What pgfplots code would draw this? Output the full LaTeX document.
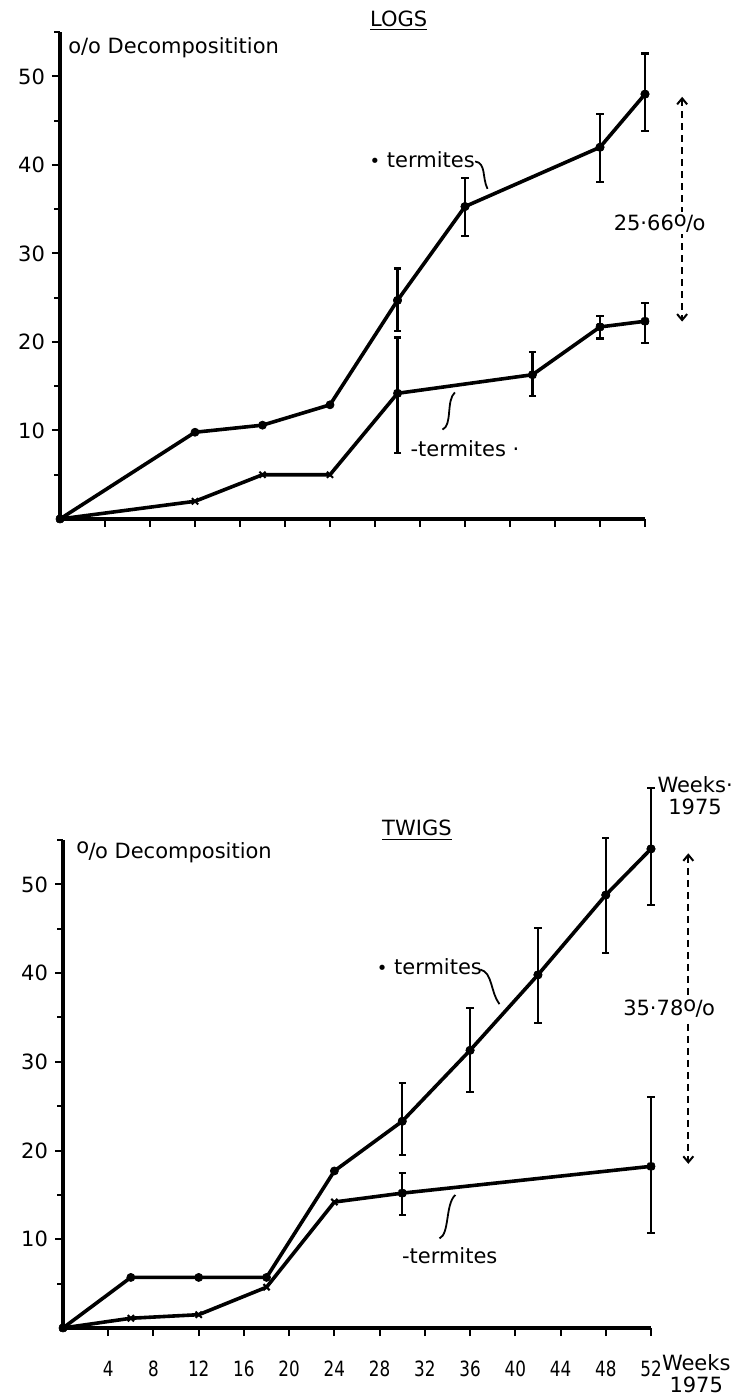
\documentclass[border=0pt]{standalone}
\usepackage{fontspec}
\setmainfont{DejaVu Sans}
\usepackage{graphicx}
\usepackage{pgfplots}
\pgfplotsset{compat=1.18}
\usepackage{pgfplotstable}
\usetikzlibrary{arrows.meta}

% ---- LOGS: % decomposition against weeks (1975) ----
\pgfplotstableread{
w y
0 0
12 9.8
18 10.6
24 12.9
30 24.7
36 35.3
48 42.0
52 48.0
}\logsplus
\pgfplotstableread{
w y ep em
30 24.7 3.6 3.5
36 35.3 3.2 3.3
48 42.0 3.8 3.9
52 48.0 4.6 4.2
}\logspluserr
\pgfplotstableread{
w y
0 0
12 2.0
18 5.0
24 5.0
30 14.2
42 16.3
48 21.7
52 22.34
}\logsminus
\pgfplotstableread{
w y ep em
30 14.2 6.3 6.7
42 16.3 2.6 2.4
48 21.7 1.2 1.3
52 22.34 2.1 2.5
}\logsminuserr

% ---- TWIGS ----
\pgfplotstableread{
w y
0 0
6 5.7
12 5.7
18 5.7
24 17.7
30 23.3
36 31.3
42 39.8
48 48.8
52 54.0
}\twigsplus
\pgfplotstableread{
w y ep em
30 23.3 4.3 3.8
36 31.3 4.8 4.7
42 39.8 5.3 5.4
48 48.8 6.4 6.5
52 54.0 6.9 6.3
}\twigspluserr
\pgfplotstableread{
w y
0 0
6 1.1
12 1.5
18 4.6
24 14.2
30 15.2
52 18.22
}\twigsminus
\pgfplotstableread{
w y ep em
30 15.2 2.3 2.5
52 18.22 7.8 7.5
}\twigsminuserr

\pgfplotsset{
  decay/.style={
    scale only axis, anchor=south west,
    xmin=0, xmax=52, ymin=0, ymax=55,
    axis lines=left,
    axis line style={-, line width=2pt},
    clip=false,
    xtick={4,8,...,52}, ytick={10,20,...,50}, minor ytick={5,15,...,55},
    tick align=outside,
    major tick length=4pt, minor tick length=2.8pt,
    tick style={black, line width=1pt},
    yticklabel style={font=\fontsize{10.5}{12}\selectfont},
    /pgf/number format/assume math mode=true,
  },
  withtermites/.style={black, line width=1.8pt, mark=*, mark size=2pt,
    mark options={solid, line width=0.4pt}},
  notermites/.style={black, line width=1.8pt, mark=x, mark size=2.2pt,
    mark options={line width=1pt}},
  bars/.style={black, only marks, mark=none, forget plot,
    error bars/y dir=both, error bars/y explicit,
    error bars/error bar style={line width=1.1pt},
    error bars/error mark options={rotate=90, line width=1.1pt, mark size=1.8pt}},
}

\newcommand{\pc}{\raisebox{2.2pt}{o}\kern-0.3pt/\kern-0.3pt o}

\begin{document}
\begin{tikzpicture}
\useasboundingbox (0pt,0pt) rectangle (367.5pt,698.5pt);

% ---------------- LOGS ----------------
\begin{axis}[decay, at={(30pt,439pt)}, width=292.5pt, height=243.4pt,
  xticklabels={}]
\addplot[withtermites] table[x=w,y=y]{\logsplus};
\addplot[notermites] table[x=w,y=y]{\logsminus};
\addplot[bars] table[x=w,y=y,y error plus=ep,y error minus=em]{\logspluserr};
\addplot[bars] table[x=w,y=y,y error plus=ep,y error minus=em]{\logsminuserr};

\node[font=\fontsize{10.5}{12}\selectfont] at (axis cs:30.1,56.3) {\underline{LOGS}};
\node[anchor=west, inner sep=0pt, font=\fontsize{10.5}{12}\selectfont]
  at (axis cs:0.7,53.3) {o/o Decompositition};

\node[font=\fontsize{10.5}{12}\selectfont] at (axis cs:32.2,40.6) {{\small•} termites};
\draw[line width=0.9pt] (axis cs:36.9,40.4) .. controls (axis cs:37.9,40.2) and (axis cs:37.5,38.6) .. (axis cs:38.0,37.3);
\node[font=\fontsize{10.5}{12}\selectfont] at (axis cs:36.0,7.9) {-termites ·};
\draw[line width=0.9pt] (axis cs:34.0,10.1) .. controls (axis cs:34.9,10.6) and (axis cs:34.3,13.4) .. (axis cs:35.1,14.3);

\draw[line width=1pt, dash pattern=on 3.5pt off 2.5pt,
  {Straight Barb[length=3pt,width=5pt]}-{Straight Barb[length=3pt,width=5pt]}]
  (axis cs:55.3,47.7) -- (axis cs:55.3,22.3);
\node[fill=white, inner sep=1pt, font=\fontsize{10.5}{12}\selectfont] at (axis cs:53.3,33.4) {25·66\pc};
\end{axis}

% ---------------- TWIGS ----------------
\begin{axis}[decay, at={(31.5pt,34.5pt)}, width=294pt, height=244pt,
  xticklabel={\scalebox{0.8}[1]{\pgfmathprintnumber{\tick}}},
  xticklabel style={font=\fontsize{10.5}{12}\selectfont, yshift=-9pt}]
\addplot[withtermites] table[x=w,y=y]{\twigsplus};
\addplot[notermites] table[x=w,y=y]{\twigsminus};
\addplot[bars] table[x=w,y=y,y error plus=ep,y error minus=em]{\twigspluserr};
\addplot[bars] table[x=w,y=y,y error plus=ep,y error minus=em]{\twigsminuserr};

\node[font=\fontsize{10.5}{12}\selectfont] at (axis cs:31.3,56.1) {\underline{TWIGS}};
\node[anchor=west, inner sep=0pt, font=\fontsize{10.5}{12}\selectfont]
  at (axis cs:1.15,53.6) {\pc\ Decomposition};

\node[font=\fontsize{10.5}{12}\selectfont] at (axis cs:32.4,40.7) {{\small•} termites};
\draw[line width=0.9pt] (axis cs:36.9,40.4) .. controls (axis cs:38.0,40.1) and (axis cs:37.8,37.8) .. (axis cs:38.6,36.5);
\node[font=\fontsize{10.5}{12}\selectfont] at (axis cs:34.2,8.2) {-termites};
\draw[line width=0.9pt] (axis cs:33.3,10.1) .. controls (axis cs:34.2,10.6) and (axis cs:33.8,14.0) .. (axis cs:34.7,15.0);

\draw[line width=1pt, dash pattern=on 3.5pt off 2.5pt,
  {Straight Barb[length=3pt,width=5pt]}-{Straight Barb[length=3pt,width=5pt]}]
  (axis cs:55.3,53.5) -- (axis cs:55.3,18.5);
\node[fill=white, inner sep=1pt, font=\fontsize{10.5}{12}\selectfont] at (axis cs:53.6,36.0) {35·78\pc};

\node[align=center, font=\fontsize{10.5}{11}\selectfont] at (axis cs:55.9,60.0) {Weeks·\\1975};
\node[align=center, font=\fontsize{10.5}{11}\selectfont] at (axis cs:56.0,-5.2) {Weeks\\1975};
\end{axis}
\end{tikzpicture}
\end{document}
